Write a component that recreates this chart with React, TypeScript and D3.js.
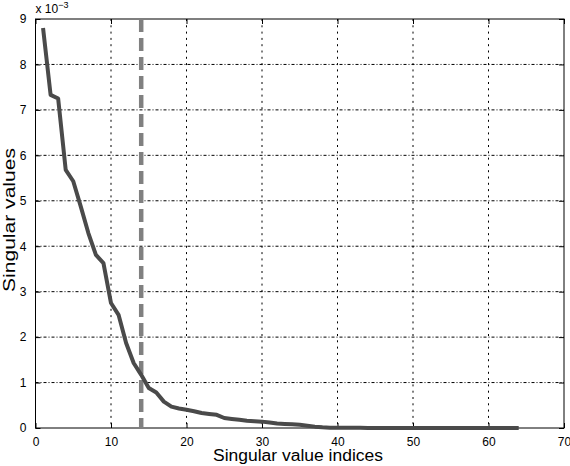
import React, { useEffect, useRef } from 'react';
import * as d3 from 'd3';

// singular values (x 10^-3), indices 1..64
const indices: number[] = d3.range(1, 65);
const singularValues: number[] = [
  8.8, 7.33, 7.25, 5.68, 5.43, 4.87, 4.29, 3.81, 3.63, 2.75,
  2.49, 1.87, 1.43, 1.17, 0.88, 0.78, 0.58, 0.47, 0.43, 0.4,
  0.37, 0.33, 0.31, 0.29, 0.22, 0.2, 0.18, 0.16, 0.15, 0.14,
  0.12, 0.1, 0.09, 0.08, 0.07, 0.05, 0.03, 0.015, 0.008, 0.005,
  0.004, 0.003, 0.003, 0.002, 0.002, 0.002, 0.001, 0.001, 0.001, 0.001,
  0.001, 0.001, 0.001, 0.001, 0.001, 0.001, 0.001, 0, 0, 0,
  0, 0, 0, 0,
];
const cutoffIndex = 14;
const xTicks = [0, 10, 20, 30, 40, 50, 60, 70];
const yTicks = [0, 1, 2, 3, 4, 5, 6, 7, 8, 9];

const App = () => {
  const ref = useRef<SVGSVGElement>(null);

  useEffect(() => {
    const W = 570;
    const H = 466;
    const margin = { top: 19, right: 6, bottom: 38, left: 35.5 };
    const width = W - margin.left - margin.right;
    const height = H - margin.top - margin.bottom;

    const root = d3.select(ref.current);
    root.selectAll('*').remove();

    const svg = root
      .append('g')
      .attr('transform', `translate(${margin.left}, ${margin.top})`);

    const x = d3.scaleLinear().domain([0, 70]).range([0, width]);
    const y = d3.scaleLinear().domain([0, 9]).range([height, 0]);

    const font = 'Liberation Sans, Arial, sans-serif';

    // grid (vertical dotted, horizontal dash-dot like the matlab render)
    svg
      .selectAll('line.gx')
      .data(xTicks.slice(1, -1))
      .enter()
      .append('line')
      .attr('x1', (d) => x(d))
      .attr('x2', (d) => x(d))
      .attr('y1', 0)
      .attr('y2', height)
      .attr('stroke', '#000')
      .attr('stroke-width', 1)
      .attr('stroke-dasharray', '2,4.3');

    svg
      .selectAll('line.gy')
      .data(yTicks.slice(1, -1))
      .enter()
      .append('line')
      .attr('x1', 0)
      .attr('x2', width)
      .attr('y1', (d) => y(d))
      .attr('y2', (d) => y(d))
      .attr('stroke', '#000')
      .attr('stroke-width', 1)
      .attr('stroke-dasharray', '3,2,1,2');

    // axes with inward ticks
    const xAxis = d3.axisBottom(x).tickValues(xTicks).tickSizeInner(-5).tickSizeOuter(0).tickPadding(9);
    const yAxis = d3.axisLeft(y).tickValues(yTicks).tickSizeInner(-5).tickSizeOuter(0).tickPadding(9);
    const xTop = d3.axisTop(x).tickValues(xTicks).tickSizeInner(-5).tickSizeOuter(0).tickFormat(() => '');
    const yRight = d3.axisRight(y).tickValues(yTicks).tickSizeInner(-5).tickSizeOuter(0).tickFormat(() => '');

    const gx = svg.append('g').attr('transform', `translate(0, ${height})`).call(xAxis);
    const gy = svg.append('g').call(yAxis);
    svg.append('g').call(xTop);
    svg.append('g').attr('transform', `translate(${width}, 0)`).call(yRight);

    svg.selectAll('.domain').remove();
    svg.selectAll('.tick line').attr('stroke', '#000');
    [gx, gy].forEach((g) =>
      g.selectAll('text').attr('font-family', font).attr('font-size', 12).attr('fill', '#000')
    );

    // box
    svg
      .append('rect')
      .attr('x', 0)
      .attr('y', 0)
      .attr('width', width)
      .attr('height', height)
      .attr('fill', 'none')
      .attr('stroke', '#000')
      .attr('stroke-width', 1);

    // cutoff line
    svg
      .append('line')
      .attr('x1', x(cutoffIndex))
      .attr('x2', x(cutoffIndex))
      .attr('y1', 0)
      .attr('y2', height)
      .attr('stroke', '#808080')
      .attr('stroke-width', 4.5)
      .attr('stroke-dasharray', '13,6');

    // singular value curve
    const line = d3
      .line<number>()
      .x((d, i) => x(indices[i]))
      .y((d) => y(d));

    svg
      .append('path')
      .datum(singularValues)
      .attr('d', line)
      .attr('fill', 'none')
      .attr('stroke', '#4a4a4a')
      .attr('stroke-width', 4)
      .attr('stroke-linejoin', 'round');

    // exponent label
    const exp = svg
      .append('text')
      .attr('x', 0)
      .attr('y', -6)
      .attr('font-family', font)
      .attr('font-size', 12)
      .attr('fill', '#000');
    exp.append('tspan').text('x 10');
    exp.append('tspan').attr('dy', -5).attr('font-size', 9).text('−3');

    // axis labels
    svg
      .append('text')
      .attr('x', 298 - margin.left)
      .attr('y', 461 - margin.top)
      .attr('text-anchor', 'middle')
      .attr('font-family', font)
      .attr('font-size', 16)
      .attr('textLength', 170)
      .attr('lengthAdjust', 'spacingAndGlyphs')
      .attr('fill', '#000')
      .text('Singular value indices');

    svg
      .append('text')
      .attr('transform', `translate(${15 - margin.left}, ${220 - margin.top}) rotate(-90)`)
      .attr('text-anchor', 'middle')
      .attr('font-family', font)
      .attr('font-size', 17)
      .attr('textLength', 144)
      .attr('lengthAdjust', 'spacingAndGlyphs')
      .attr('fill', '#000')
      .text('Singular values');
  }, []);

  return (
    <svg
      ref={ref}
      width={570}
      height={466}
      style={{ position: 'absolute', left: 0, top: 0, background: '#fff' }}
    />
  );
};

export default App;
